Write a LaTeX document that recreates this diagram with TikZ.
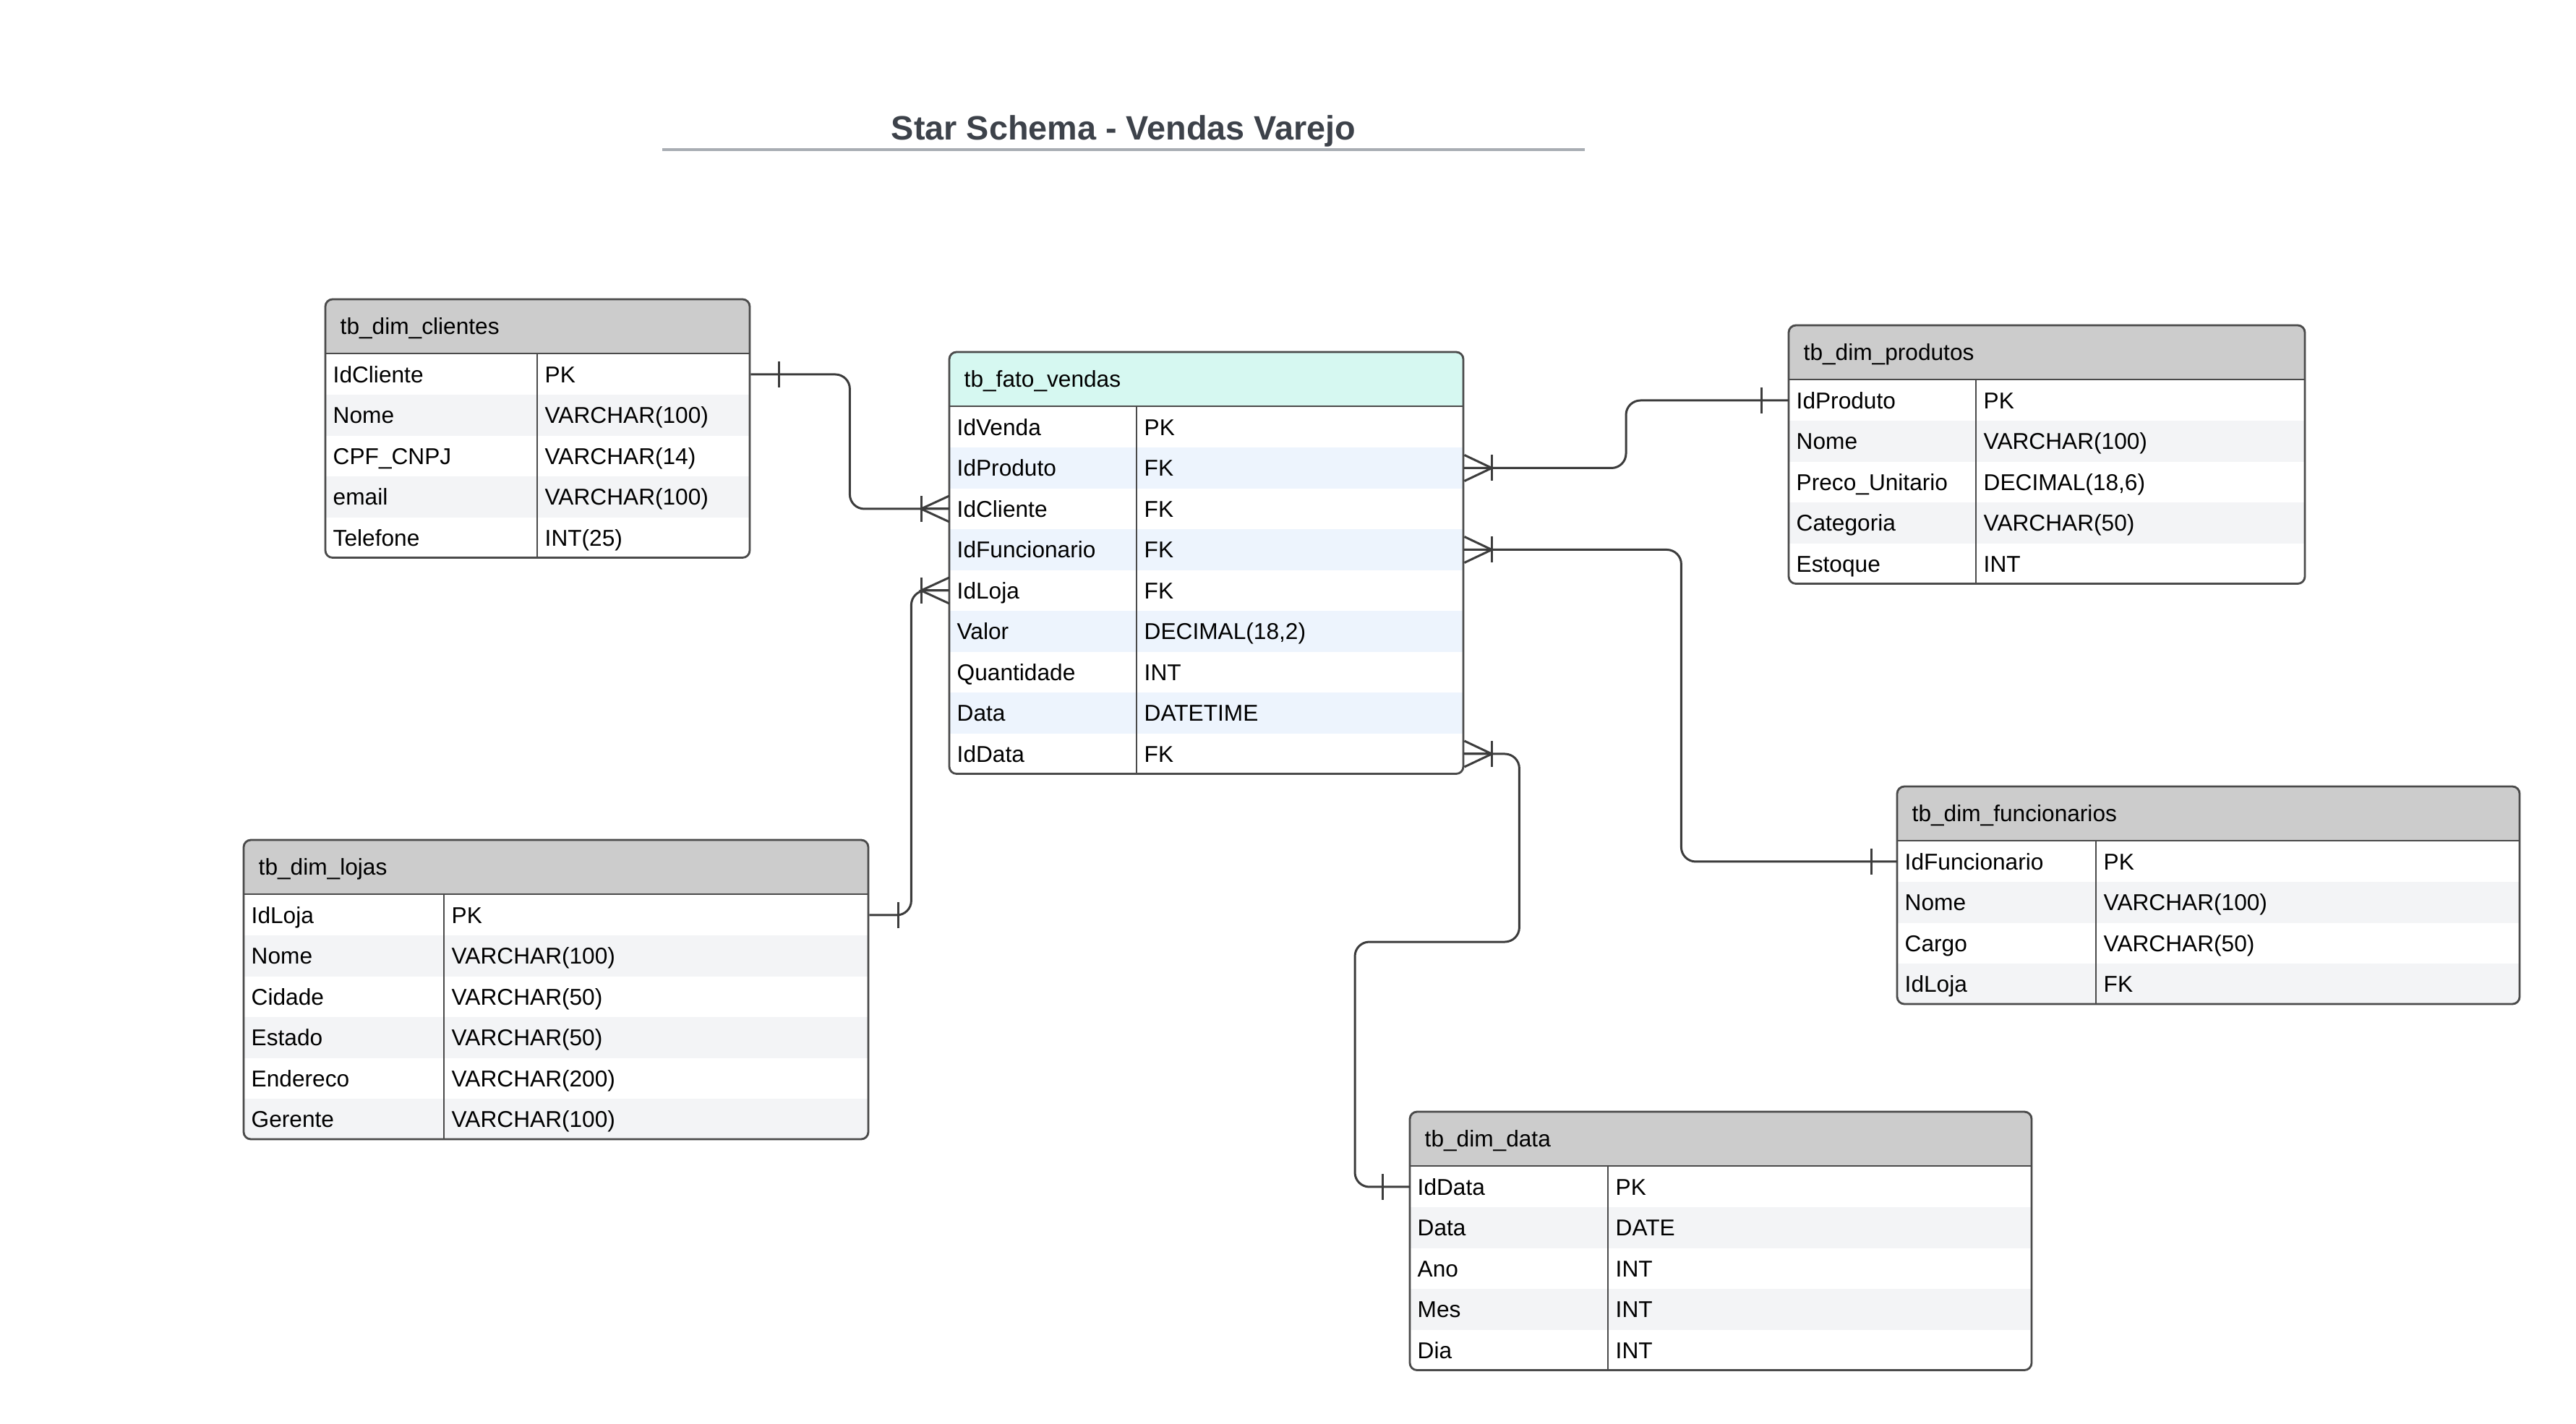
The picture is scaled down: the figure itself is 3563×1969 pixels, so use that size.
\documentclass[tikz,border=0pt]{standalone}
\usepackage{fontspec}
\usepackage{tikz}
\setmainfont{Liberation Sans}
\definecolor{headgray}{HTML}{CCCCCC}
\definecolor{headmint}{HTML}{D6F8F1}
\definecolor{stripegray}{HTML}{F3F4F6}
\definecolor{stripeblue}{HTML}{EDF4FD}
\definecolor{tableline}{HTML}{4A4A4A}
\definecolor{linkgray}{HTML}{3C3C3C}
\definecolor{titlegray}{HTML}{3D424A}
\definecolor{ruleline}{HTML}{A8ADB3}
\newcommand{\rowfont}{\fontsize{9}{11}\selectfont}
\tikzset{
    tablerow/.style={rectangle, inner sep=0pt, minimum height=0.565cm, anchor=north west},
    fieldtext/.style={anchor=base west, inner sep=0pt, font=\rowfont, text=black},
    tableedge/.style={draw=tableline, line width=0.8pt},
    relation/.style={draw=linkgray, line width=0.85pt, rounded corners=0.2cm},
    markline/.style={draw=linkgray, line width=0.85pt}
}
\newcommand{\drawTable}[9]{
    \foreach \fld/\typ [count=\n] in {#9} {\xdef\nrows{\n}}
    \begin{scope}
        \clip[rounded corners=0.1cm] (#2,#3) rectangle ++(#4,75+\nrows*56.5);
        \fill[#6] (#2,#3) rectangle ++(#4,75);
        \node[fieldtext] (#1-title) at (#2+20,#3+37.5+11.3) {#8};
        \foreach \fld/\typ [count=\i] in {#9} {
            \ifodd\i \def\rowfill{white}\else \def\rowfill{#7}\fi
            \node[tablerow, minimum width=#4*0.01cm, fill=\rowfill] (#1-\i) at (#2,#3+75+\i*56.5-56.5) {};
            \node[fieldtext] at ([xshift=0.1cm, yshift=-0.113cm]#1-\i.west) {\fld};
            \node[fieldtext] at ([xshift=#5*0.01cm+0.1cm, yshift=-0.113cm]#1-\i.west) {\typ};
        }
    \end{scope}
    \draw[tableedge] (#2+#5,#3+75) -- (#2+#5,#3+75+\nrows*56.5);
    \draw[tableedge] (#2,#3+75) -- ++(#4,0);
    \draw[tableedge, rounded corners=0.1cm] (#2,#3) rectangle ++(#4,75+\nrows*56.5);
}

\begin{document}
\begin{tikzpicture}[x=0.01cm, y=-0.01cm]
            \newcommand{\barMark}[2]{
                \draw[markline] ([xshift=#2*0.01cm]#1) ++(0,18) -- ++(0,-36)
            }
            \newcommand{\crowFoot}[2]{
                \draw[markline] ([xshift=#2*0.01cm]#1) ++(0,18) -- ++(0,-36);
                \draw[markline] ([yshift=0.18cm]#1) -- ([xshift=#2*0.01cm]#1) -- ([yshift=-0.18cm]#1);
                \draw[markline] (#1) -- ([xshift=#2*0.01cm]#1)
            }
            \fill[white] (0,0) rectangle (3563,1969);
            \useasboundingbox (0,0) rectangle (3563,1969);

            \node[font=\fontsize{13.3}{16}\selectfont\bfseries, text=titlegray] (title) at (1554,181) {Star Schema - Vendas Varejo};
            \draw[ruleline, line width=1.3pt] (916,207) -- (2192,207);

            \drawTable{clientes}{450}{414}{587}{293}{headgray}{stripegray}{tb\_dim\_clientes}
                {IdCliente/PK, Nome/VARCHAR(100), CPF\_CNPJ/VARCHAR(14), email/VARCHAR(100), Telefone/INT(25)}
            \drawTable{fato}{1313}{487}{711}{259}{headmint}{stripeblue}{tb\_fato\_vendas}
                {IdVenda/PK, IdProduto/FK, IdCliente/FK, IdFuncionario/FK, IdLoja/FK, Valor/{DECIMAL(18,2)}, Quantidade/INT, Data/DATETIME, IdData/FK}
            \drawTable{produtos}{2474}{450}{714}{259}{headgray}{stripegray}{tb\_dim\_produtos}
                {IdProduto/PK, Nome/VARCHAR(100), Preco\_Unitario/{DECIMAL(18,6)}, Categoria/VARCHAR(50), Estoque/INT}
            \drawTable{lojas}{337}{1162}{864}{277}{headgray}{stripegray}{tb\_dim\_lojas}
                {IdLoja/PK, Nome/VARCHAR(100), Cidade/VARCHAR(50), Estado/VARCHAR(50), Endereco/VARCHAR(200), Gerente/VARCHAR(100)}
            \drawTable{funcionarios}{2624}{1088}{861}{275}{headgray}{stripegray}{tb\_dim\_funcionarios}
                {IdFuncionario/PK, Nome/VARCHAR(100), Cargo/VARCHAR(50), IdLoja/FK}
            \drawTable{data}{1950}{1538}{860}{274}{headgray}{stripegray}{tb\_dim\_data}
                {IdData/PK, Data/DATE, Ano/INT, Mes/INT, Dia/INT}

            \coordinate (datalink) at (1874,1303);
            \draw[relation] (clientes-1.east) -- ++(137,0) |- (fato-3.west);
            \draw[relation] (produtos-1.west) -- ++(-225,0) |- (fato-2.east);
            \draw[relation] (fato-4.east) -- ++(300,0) |- (funcionarios-1.west);
            \draw[relation] (lojas-1.east) -- ++(58,0) |- (fato-5.west);
            \draw[relation] (fato-9.east) -- ++(76,0) |- (datalink) |- (data-1.west);

            \barMark{clientes-1.east}{39};
            \crowFoot{fato-3.west}{-39};
            \barMark{produtos-1.west}{-38};
            \crowFoot{fato-2.east}{38};
            \crowFoot{fato-4.east}{38};
            \barMark{funcionarios-1.west}{-36};
            \barMark{lojas-1.east}{40};
            \crowFoot{fato-5.west}{-39};
            \crowFoot{fato-9.east}{38};
            \barMark{data-1.west}{-38};

        \end{tikzpicture}
\end{document}
